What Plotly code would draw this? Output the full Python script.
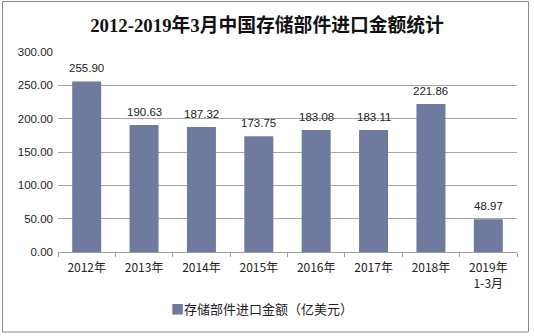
import plotly.graph_objects as go

categories = ["2012年", "2013年", "2014年", "2015年", "2016年", "2017年", "2018年", "2019年<br>1-3月"]
values = [255.90, 190.63, 187.32, 173.75, 183.08, 183.11, 221.86, 48.97]
series_name = "存储部件进口金额（亿美元）"
title_text = "2012-2019年3月中国存储部件进口金额统计"

BAR_COLOR = "#6f7a9f"
W, H = 534, 336
L, R, T, B = 58, 17, 52, 84
pw, ph = W - L - R, H - T - B


def px_x(x):
    return (x - L) / pw


def px_y(y):
    return (H - B - y) / ph


fig = go.Figure()
fig.add_trace(go.Bar(
    x=categories, y=values, name=series_name,
    marker=dict(color=BAR_COLOR, line=dict(width=0)),
    showlegend=False,
))

# value labels above each bar
value_labels = [dict(x=c, y=v, xref="x", yref="y", text=f"{v:.2f}", showarrow=False,
                     xanchor="center", yanchor="bottom", yshift=5,
                     font=dict(family="Liberation Sans, Arial", size=11.5, color="#222"))
                for c, v in zip(categories, values)]

legend_note = dict(xref="paper", yref="paper", x=px_x(169), y=px_y(308),
                   xanchor="left", yanchor="middle", showarrow=False,
                   text=f"<span style='color:{BAR_COLOR}'>■</span>{series_name}",
                   font=dict(family="Noto Sans CJK SC", size=13, color="#222"))

fig.update_layout(
    width=W, height=H,
    margin=dict(l=L, r=R, t=T, b=B),
    paper_bgcolor="white", plot_bgcolor="white",
    bargap=0.495,
    showlegend=False,
    title=dict(text=f"<b>{title_text}</b>", x=0.5, xanchor="center", y=1 - 25 / H, yanchor="middle",
               font=dict(family="Liberation Serif, Noto Sans CJK SC", size=18.8, color="#111")),
    xaxis=dict(type="category", showgrid=False, showline=True, linecolor="#a0a0a0", linewidth=1,
               ticks="outside", tickson="boundaries", ticklen=4, tickcolor="#a0a0a0",
               ticklabelstandoff=5,
               tickfont=dict(family="Noto Sans CJK SC", size=12, color="#222")),
    yaxis=dict(range=[0, 300], dtick=50, tickformat=".2f", showgrid=True, gridcolor="#a6a6a6",
               gridwidth=1, zeroline=False, showline=False, ticks="", ticklabelstandoff=4,
               tickfont=dict(family="Liberation Sans, Arial", size=11.5, color="#222")),
    annotations=value_labels + [legend_note],
    shapes=[dict(type="rect", xref="paper", yref="paper",
                 x0=px_x(2.5), x1=px_x(528.5), y0=px_y(332), y1=px_y(1.5),
                 line=dict(color="#8a8a8a", width=1), fillcolor="rgba(0,0,0,0)", layer="below")],
)

fig.write_html("out.html")
